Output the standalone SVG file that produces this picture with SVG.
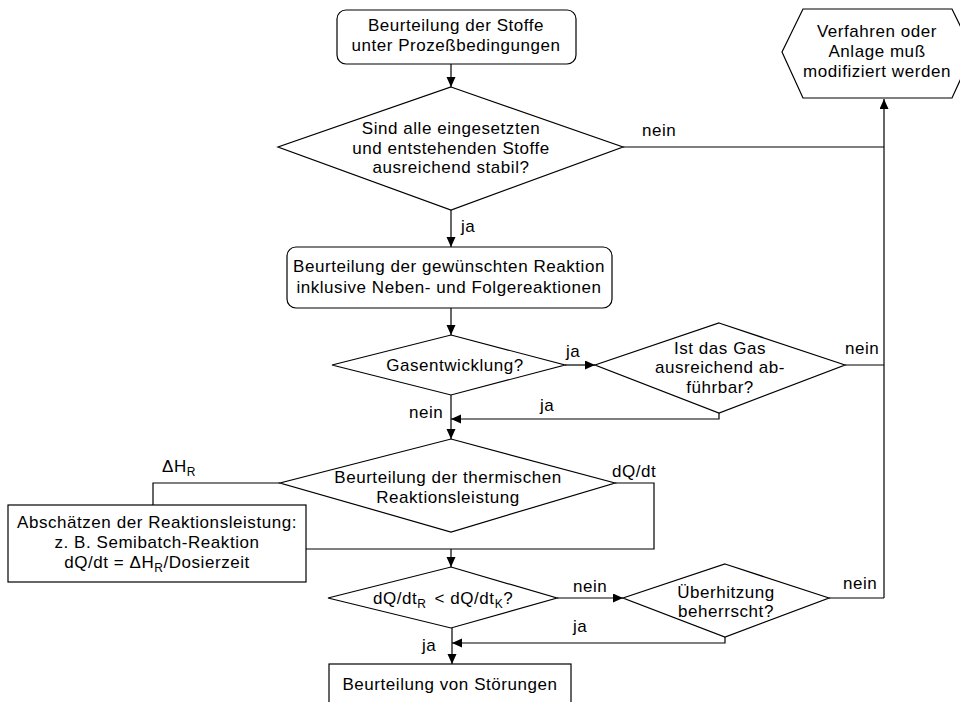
<svg xmlns="http://www.w3.org/2000/svg" width="960" height="702" viewBox="0 0 960 702">
<defs>
<marker id="ah" markerUnits="userSpaceOnUse" markerWidth="11" markerHeight="10" refX="10" refY="4.5" orient="auto">
<path d="M0,0 L10,4.5 L0,9 z" fill="#000"/>
</marker>
<style>
.n{fill:#fff;stroke:#000;stroke-width:1.2}
.t{font-family:"Liberation Sans",Arial,sans-serif;font-size:17px;fill:#000;text-anchor:middle;letter-spacing:0.55px}
.l{font-family:"Liberation Sans",Arial,sans-serif;font-size:17px;fill:#000;letter-spacing:0.55px}
.s{font-size:12px}
.c{fill:none;stroke:#000;stroke-width:1.2}
.a{fill:none;stroke:#000;stroke-width:1.2;marker-end:url(#ah)}
</style>
</defs>
<rect width="960" height="702" fill="#fff"/>
<g id="connectors">
<path class="a" d="M451,64 V87"/>
<path class="a" d="M451,210 V247"/>
<path class="a" d="M451,308 V335"/>
<path class="a" d="M565,365 H595"/>
<path class="a" d="M451,395 V439"/>
<path class="a" d="M719,413 V419 H451"/>
<path class="c" d="M623,147 H884"/>
<path class="c" d="M845,365 H884"/>
<path class="a" d="M884,598 V99"/>
<path class="c" d="M829,598 H884"/>
<path class="c" d="M615,483 H654 V549 H306"/>
<path class="c" d="M280,483 H153 V505"/>
<path class="a" d="M451,549 V567"/>
<path class="a" d="M557,598 H623"/>
<path class="a" d="M725,637 V643 H452"/>
<path class="a" d="M452,628 V664"/>
<text class="l" x="642" y="136">nein</text>
<text class="l" x="461" y="232">ja</text>
<text class="l" x="566" y="357">ja</text>
<text class="l" x="845" y="354">nein</text>
<text class="l" x="540" y="411">ja</text>
<text class="l" x="409" y="418">nein</text>
<text class="l" x="612" y="477">dQ/dt</text>
<text class="l" x="162" y="472">ΔH<tspan class="s" dy="4">R</tspan></text>
<text class="l" x="573" y="592">nein</text>
<text class="l" x="843" y="589">nein</text>
<text class="l" x="573" y="632">ja</text>
<text class="l" x="422" y="651">ja</text>
</g>
<g id="n1">
<rect class="n" x="337" y="10" width="239" height="54" rx="9"/>
<text class="t" x="456" y="31">Beurteilung der Stoffe</text>
<text class="t" x="456" y="51">unter Prozeßbedingungen</text>
</g>
<g id="n2">
<polygon class="n" points="451,87 623,147 451,210 278,147"/>
<text class="t" x="451" y="134">Sind alle eingesetzten</text>
<text class="t" x="451" y="154">und entstehenden Stoffe</text>
<text class="t" x="451" y="173">ausreichend stabil?</text>
</g>
<g id="n3">
<polygon class="n" points="803,9 952,9 973,52 952,98 803,98 782,52"/>
<text class="t" x="877" y="37">Verfahren oder</text>
<text class="t" x="877" y="57">Anlage muß</text>
<text class="t" x="877" y="77">modifiziert werden</text>
</g>
<g id="n4">
<rect class="n" x="287" y="247" width="325" height="61" rx="9"/>
<text class="t" x="449" y="272">Beurteilung der gewünschten Reaktion</text>
<text class="t" x="449" y="293">inklusive Neben- und Folgereaktionen</text>
</g>
<g id="n5">
<polygon class="n" points="451,335 565,365 451,395 332,365"/>
<text class="t" x="455" y="371">Gasentwicklung?</text>
</g>
<g id="n6">
<polygon class="n" points="719,323 845,365 719,413 595,365"/>
<text class="t" x="720" y="354">Ist das Gas</text>
<text class="t" x="720" y="373">ausreichend ab-</text>
<text class="t" x="720" y="393">führbar?</text>
</g>
<g id="n7">
<polygon class="n" points="451,439 615,483 451,532 280,483"/>
<text class="t" x="448" y="483">Beurteilung der thermischen</text>
<text class="t" x="448" y="503">Reaktionsleistung</text>
</g>
<g id="n8">
<rect class="n" x="8" y="505" width="298" height="77"/>
<text class="t" x="157" y="528">Abschätzen der Reaktionsleistung:</text>
<text class="t" x="157" y="548">z. B. Semibatch-Reaktion</text>
<text class="t" x="157" y="568">dQ/dt = ΔH<tspan class="s" dy="4">R</tspan><tspan dy="-4">/Dosierzeit</tspan></text>
</g>
<g id="n9">
<polygon class="n" points="451,567 557,598 451,628 328,598"/>
<text class="l" x="373" y="604">dQ/dt<tspan class="s" dy="4">R</tspan><tspan dx="8" dy="-4">&lt; dQ/dt</tspan><tspan class="s" dy="4">K</tspan><tspan dy="-4">?</tspan></text>
</g>
<g id="n10">
<polygon class="n" points="725,564 829,598 725,637 623,598"/>
<text class="t" x="726" y="598">Überhitzung</text>
<text class="t" x="726" y="617">beherrscht?</text>
</g>
<g id="n11">
<rect class="n" x="329" y="664" width="242" height="42"/>
<text class="t" x="450" y="690">Beurteilung von Störungen</text>
</g>
</svg>
